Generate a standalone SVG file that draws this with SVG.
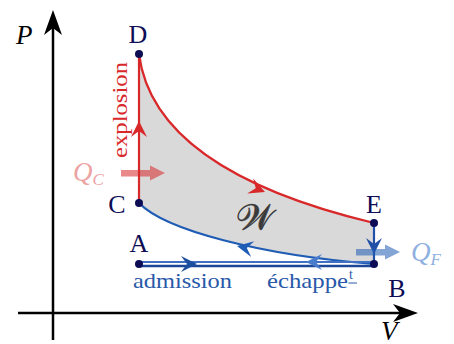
<svg xmlns="http://www.w3.org/2000/svg" width="454" height="344" viewBox="0 0 454 344">
<style>
.lbl{font-family:"Liberation Serif",serif;font-size:26px;fill:#0d0d55;text-anchor:middle}
.ax{font-family:"Liberation Serif",serif;font-size:27px;font-style:italic;fill:#000}
.txt{font-family:"Liberation Serif",serif;font-size:21px;fill:#2858a8}
.q{font-family:"Liberation Serif",serif;font-style:italic;font-size:27px}
.pt{fill:#0d0d55}
.red{stroke:#d8282a;stroke-width:2.2;fill:none}
.blue{stroke:#1f5cb5;stroke-width:2.2;fill:none}
</style>
<defs>
<path id="ah" d="M0,0 L-16,-8 L-10,0 L-16,8 Z"/>
<path id="axh" d="M0,0 L-25,-9 L-18,0 L-25,9 Z"/>
</defs>
<g id="axes">
<line x1="53" y1="340" x2="53" y2="22" stroke="#000" stroke-width="2.5"/>
<use href="#axh" transform="translate(53,10) rotate(-90)"/>
<line x1="18" y1="313" x2="405" y2="313" stroke="#000" stroke-width="2.5"/>
<use href="#axh" transform="translate(418,313)"/>
<text class="ax" x="16" y="44">P</text>
<text class="ax" x="381" y="340">V</text>
</g>
<g id="work-area">
<path d="M139,203 L139,54 C148,125 215,185 374,223 L374,264 C260,255 165,230 139,203 Z" fill="#d9d9d9"/>
<text x="255" y="230" font-family="DejaVu Sans,serif" font-size="36" fill="#3a3a3a" stroke="#3a3a3a" stroke-width="0.6" text-anchor="middle">𝒲</text>
</g>
<g id="connectors">
<line class="red" x1="139" y1="203" x2="139" y2="54"/>
<use href="#ah" fill="#d8282a" transform="translate(139,121) rotate(-90)"/>
<path class="red" d="M139,54 C148,125 215,185 374,223"/>
<use href="#ah" fill="#d8282a" transform="translate(265,192) rotate(22)"/>
<line x1="374" y1="223" x2="374" y2="264" stroke="#1f4fa8" stroke-width="2.2"/>
<use href="#ah" fill="#1f4fa8" transform="translate(374,254) rotate(90)"/>
<path class="blue" d="M374,264 C260,255 165,230 139,203"/>
<use href="#ah" fill="#1f5cb5" transform="translate(237,246) rotate(191)"/>
<line x1="139" y1="262" x2="374" y2="262" stroke="#3f70c4" stroke-width="2"/>
<line x1="139" y1="266" x2="374" y2="266" stroke="#1c4796" stroke-width="2.4"/>
<use href="#ah" fill="#1c4fa0" transform="translate(197,264)"/>
<use href="#ah" fill="#4a7ccc" transform="translate(306,262) rotate(180)"/>
</g>
<g id="heat">
<g opacity="0.55" fill="#d8282a" stroke="none">
<rect x="121" y="170" width="32" height="6.5"/>
<path d="M165,173 L150,165.5 L150,180.5 Z"/>
</g>
<g opacity="0.55" fill="#1f5cb5" stroke="none">
<rect x="356" y="249" width="32" height="6.5"/>
<path d="M400,252 L385,244.5 L385,259.5 Z"/>
</g>
<text class="q" x="73" y="181" fill="#eca3a3">Q<tspan style="font-size:17px" dy="4">C</tspan></text>
<text class="q" x="411" y="261" fill="#8fb0e2">Q<tspan style="font-size:17px" dy="4">F</tspan></text>
</g>
<g id="labels">
<text class="txt" style="fill:#d8282a" transform="translate(127,110) rotate(-90)" text-anchor="middle" textLength="96" lengthAdjust="spacingAndGlyphs">explosion</text>
<text class="txt" x="133" y="288" textLength="99" lengthAdjust="spacingAndGlyphs">admission</text>
<text class="txt" x="267" y="288" textLength="81" lengthAdjust="spacingAndGlyphs">échappe</text>
<text class="txt" x="349" y="279" style="font-size:14px">t</text>
<line x1="348.5" y1="283" x2="357" y2="283" stroke="#2858a8" stroke-width="1"/>
</g>
<g id="node-D"><circle class="pt" cx="139" cy="54" r="4"/><text class="lbl" x="138" y="43">D</text></g>
<g id="node-C"><circle class="pt" cx="139" cy="203" r="4"/><text class="lbl" x="117" y="213">C</text></g>
<g id="node-E"><circle class="pt" cx="374" cy="223" r="4"/><text class="lbl" x="374" y="213">E</text></g>
<g id="node-B"><circle class="pt" cx="374" cy="264" r="4"/><text class="lbl" x="397" y="297">B</text></g>
<g id="node-A"><circle class="pt" cx="139" cy="264" r="4"/><text class="lbl" x="139" y="252">A</text></g>
</svg>
